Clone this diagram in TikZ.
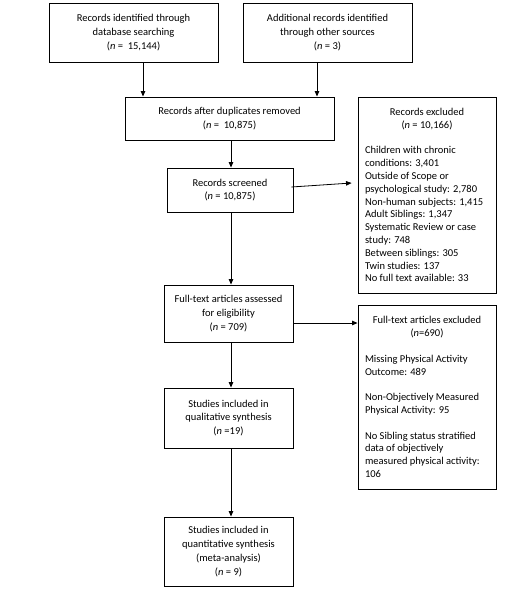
\documentclass[tikz,border=0pt]{standalone}
\usepackage{fontspec}
\setmainfont{Carlito}
\usetikzlibrary{arrows.meta}
\begin{document}
\begin{tikzpicture}[x=1pt,y=-1pt,
  box/.style={draw=black,line width=0.9pt,rectangle,inner sep=0pt,align=center,
    font=\fontsize{10.5}{13.8}\selectfont},
  lbox/.style={draw=black,line width=0.9pt,rectangle,inner sep=0pt,
    font=\fontsize{10.5}{12.8}\selectfont},
  arr/.style={line width=0.8pt,-{Triangle[length=5.5pt,width=4.5pt]}}]
\useasboundingbox[fill=white] (0,0) rectangle (520,597);
\node[box,minimum width=169,minimum height=59] (b1) at (133.5,32.5)
  {Records identified through\\database searching\\(\textit{n} =\ \ 15,144)};
\node[box,minimum width=169,minimum height=59] (b2) at (327.5,32.5)
  {Additional records identified\\through other sources\\(\textit{n} = 3)};
\node[box,minimum width=209,minimum height=43] (b3) at (229.5,118.5)
  {Records after duplicates removed\\(\textit{n} =\ \ 10,875)};
\node[box,minimum width=126,minimum height=44] (scr) at (230,190)
  {Records screened\\(\textit{n} = 10,875)};
\node[box,minimum width=129,minimum height=57] (ft) at (228.5,313.5)
  {Full-text articles assessed\\for eligibility\\(\textit{n} = 709)};
\node[box,minimum width=129,minimum height=60] (qual) at (228.5,418)
  {Studies included in\\qualitative synthesis\\(\textit{n} =19)};
\node[box,minimum width=129,minimum height=69] (quant) at (228.5,551.5)
  {Studies included in\\quantitative synthesis\\(meta-analysis)\\(\textit{n} = 9)};
\node[lbox,minimum width=138,minimum height=196] (ex1) at (427,195)
  {\begin{minipage}{124pt}
  \centering Records excluded\\(\textit{n} = 10,166)\par
  \vspace{12.8pt}\raggedright
  Children with chronic\\conditions: 3,401\\
  Outside of Scope or\\psychological study: 2,780\\
  Non-human subjects: 1,415\\
  Adult Siblings: 1,347\\
  Systematic Review or case\\study: 748\\
  Between siblings: 305\\
  Twin studies: 137\\
  No full text available: 33
  \end{minipage}};
\node[lbox,minimum width=138,minimum height=184] (ex2) at (427,397)
  {\begin{minipage}{124pt}
  \centering Full-text articles excluded\\(\textit{n}=690)\par
  \vspace{12.8pt}\raggedright
  Missing Physical Activity\\Outcome: 489\par
  \vspace{12.8pt}
  Non-Objectively Measured\\Physical Activity: 95\par
  \vspace{12.8pt}
  No Sibling status stratified\\data of objectively\\measured physical activity:\\106
  \end{minipage}};
\draw[arr] ([xshift=9.5]b1.south) -- ([xshift=9.5]b1.south |- b3.north);
\draw[arr] ([xshift=-10.5]b2.south) -- ([xshift=-10.5]b2.south |- b3.north);
\draw[arr] ([xshift=1.5]b3.south) -- ([xshift=1.5]b3.south |- scr.north);
\draw[arr] ([xshift=-2,yshift=3]scr.east) -- ([xshift=-6,yshift=12]ex1.west);
\draw[arr] ([xshift=2.5]ft.south |- scr.south) -- ([xshift=2.5]ft.north);
\draw[arr] ([yshift=-9.5]ft.east) -- ([yshift=-9.5]ft.east -| ex2.west);
\draw[arr] ([xshift=2.5]ft.south) -- ([xshift=2.5]qual.north);
\draw[arr] ([xshift=2.5]qual.south) -- ([xshift=2.5]quant.north);
\end{tikzpicture}
\end{document}
